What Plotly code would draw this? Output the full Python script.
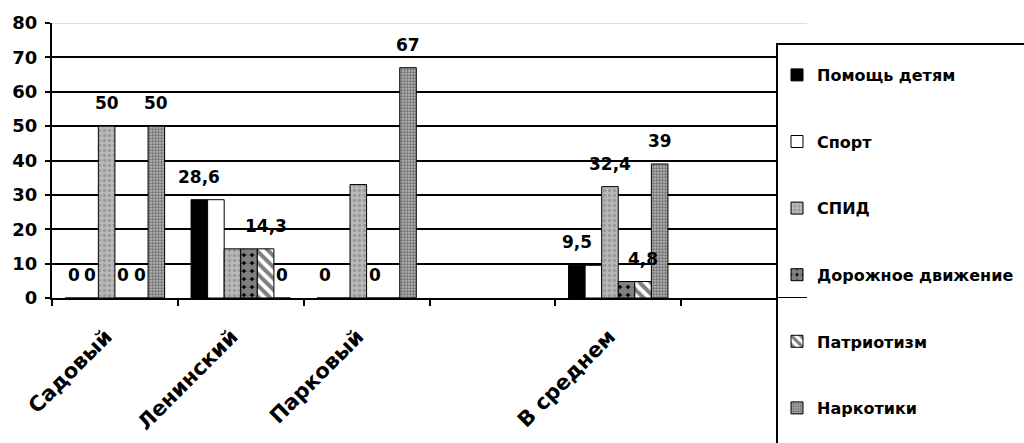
import plotly.graph_objects as go

# Categories on the x axis (empty slots keep the spacing of the original layout)
categories = ["Садовый", "Ленинский", "Парковый", "", "В среднем", ""]

# Share of projects by topic, %
pomosh_detyam = [0, 28.6, 0, None, 9.5, None]
sport = [0, 28.6, 0, None, 9.5, None]
spid = [50, 14.3, 33, None, 32.4, None]
dorozhnoe = [0, 14.3, 0, None, 4.8, None]
patriotizm = [0, 14.3, 0, None, 4.8, None]
narkotiki = [50, 0, 67, None, 39, None]

# Which bars carry a value label
pomosh_detyam_lbl = [True, True, True, False, True, False]
sport_lbl = [True, False, False, False, False, False]
spid_lbl = [True, False, False, False, True, False]
dorozhnoe_lbl = [True, False, True, False, False, False]
patriotizm_lbl = [True, True, False, False, True, False]
narkotiki_lbl = [True, True, True, False, True, False]

y_ticks = [0, 10, 20, 30, 40, 50, 60, 70, 80]

FONT = "DejaVu Sans"
BARGAP = 0.21

series = [
    ("Помощь детям", pomosh_detyam, pomosh_detyam_lbl,
     dict(color="black")),
    ("Спорт", sport, sport_lbl,
     dict(color="white")),
    ("СПИД", spid, spid_lbl,
     dict(color="#a9a9a9",
          pattern=dict(shape=".", fgcolor="#7a7a7a", bgcolor="#b8b8b8",
                       size=5, solidity=0.35))),
    ("Дорожное движение", dorozhnoe, dorozhnoe_lbl,
     dict(color="black",
          pattern=dict(shape=".", fgcolor="white", bgcolor="black",
                       size=8, solidity=0.8))),
    ("Патриотизм", patriotizm, patriotizm_lbl,
     dict(color="white",
          pattern=dict(shape="\\", fgcolor="black", bgcolor="white",
                       size=8, solidity=0.5))),
    ("Наркотики", narkotiki, narkotiki_lbl,
     dict(color="#8a8a8a",
          pattern=dict(shape=".", fgcolor="#202020", bgcolor="#d0d0d0",
                       size=3, solidity=0.7))),
]

# Plot-area geometry in pixels (used to place the legend frame and entries)
W, H = 1024, 443
ML, MR, MT, MB = 52, 217, 23, 145
plot_w = W - ML - MR
plot_h = H - MT - MB
legend_left = (777 - ML) / plot_w
legend_top = (H - MB - 44) / plot_h
LEGEND_FIRST_PX, LEGEND_STEP_PX = 75, 66.6

x_pos = list(range(len(categories)))
n_series = len(series)
bar_w = (1 - BARGAP) / n_series

fig = go.Figure()
annotations = []
legends = {}
for j, (name, values, show, marker) in enumerate(series):
    legend_id = "legend" if j == 0 else f"legend{j + 1}"
    fig.add_trace(go.Bar(
        x=x_pos, y=values, name=name, legend=legend_id,
        marker=dict(line=dict(color="black", width=1), **marker),
    ))
    item_px = LEGEND_FIRST_PX + j * LEGEND_STEP_PX
    legends[legend_id] = dict(
        x=legend_left, xanchor="left",
        y=(H - MB - item_px) / plot_h, yanchor="middle",
        bgcolor="rgba(0,0,0,0)", borderwidth=0,
        font=dict(family=FONT, size=16, color="black", weight="bold"),
    )
    for i, (v, s) in enumerate(zip(values, show)):
        if v is None or not s:
            continue
        txt = f"{v:g}".replace(".", ",")
        annotations.append(dict(
            x=i + (j - (n_series - 1) / 2) * bar_w, y=v,
            xref="x", yref="y", text=txt, showarrow=False,
            yanchor="bottom", yshift=11,
            font=dict(family=FONT, size=17, color="black", weight="bold"),
        ))

shapes = [
    # faint top gridline
    dict(type="line", xref="paper", yref="y", x0=0, x1=1, y0=80, y1=80,
         line=dict(color="#dcdcdc", width=2), layer="above"),
    # legend frame running off the page edge
    dict(type="rect", xref="paper", yref="paper", x0=legend_left, x1=1.6,
         y0=-1.0, y1=legend_top, fillcolor="white",
         line=dict(color="black", width=2), layer="above"),
    # axis line continuing over the legend frame
    dict(type="line", xref="paper", yref="y", x0=legend_left, x1=1,
         y0=0, y1=0, line=dict(color="black", width=2), layer="above"),
    dict(type="line", xref="x", yref="y", x0=len(categories) - 0.5,
         x1=len(categories) - 0.5, ysizemode="pixel", yanchor=0, y0=0, y1=-6,
         line=dict(color="black", width=2), layer="above"),
]

fig.update_layout(
    width=W, height=H,
    margin=dict(l=ML, r=MR, t=MT, b=MB, pad=0, autoexpand=False),
    paper_bgcolor="white", plot_bgcolor="white",
    barmode="group", bargap=BARGAP, bargroupgap=0,
    font=dict(family=FONT, color="black"),
    showlegend=True,
    annotations=annotations,
    shapes=shapes,
    **legends,
)

fig.update_xaxes(
    range=[-0.5, len(categories) - 0.5],
    tickmode="array", tickvals=[i for i, c in enumerate(categories) if c],
    ticktext=[c for c in categories if c],
    ticks="", tickangle=-45, ticklabelstandoff=16, ticklabelshift=-9,
    tickfont=dict(family=FONT, size=21, color="black", weight="bold"),
    showline=True, linecolor="black", linewidth=2,
    showgrid=False, zeroline=False,
    minor=dict(tickmode="array",
               tickvals=[i - 0.5 for i in range(len(categories) + 1)],
               ticks="outside", ticklen=6, tickwidth=2, tickcolor="black",
               showgrid=False),
)

fig.update_yaxes(
    range=[0, 80], tickmode="array", tickvals=y_ticks,
    ticks="outside", ticklen=5, tickwidth=2, tickcolor="black",
    ticklabelstandoff=4,
    tickfont=dict(family=FONT, size=18, color="black", weight="bold"),
    showline=True, linecolor="black", linewidth=2,
    showgrid=True, gridcolor="black", gridwidth=1.5,
    zeroline=False,
)

fig.write_html("out.html")
